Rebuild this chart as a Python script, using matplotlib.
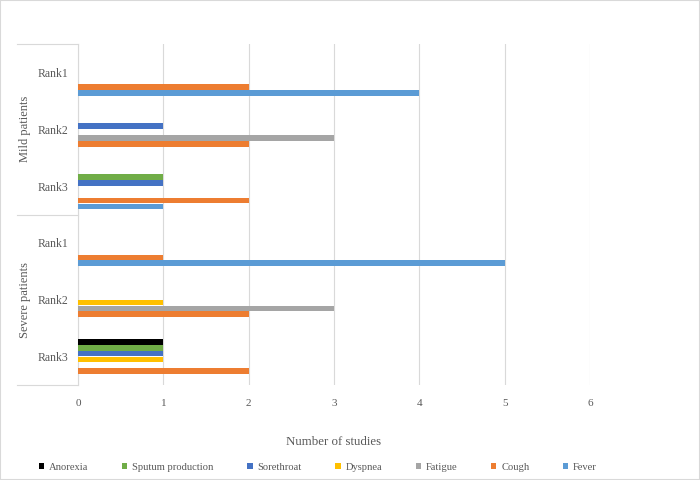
import matplotlib
matplotlib.use("Agg")
import matplotlib.pyplot as plt
from matplotlib.patches import Patch, Rectangle
import matplotlib.transforms as mtransforms

plt.rcParams['font.family'] = ['Liberation Serif', 'DejaVu Serif']

categories = ["Rank1", "Rank2", "Rank3", "Rank1", "Rank2", "Rank3"]
groups = ["Mild patients", "Severe patients"]
series = ["Fever", "Cough", "Fatigue", "Dyspnea", "Sorethroat", "Sputum production", "Anorexia"]
colors = ["#5B9BD5", "#ED7D31", "#A5A5A5", "#FFC000", "#4472C4", "#70AD47", "#000000"]

# values per series, in category order (Mild R1, R2, R3, Severe R1, R2, R3)
fever      = [4, 0, 1, 5, 0, 0]
cough      = [2, 2, 2, 1, 2, 2]
fatigue    = [0, 3, 0, 0, 3, 0]
dyspnea    = [0, 0, 0, 0, 1, 1]
sorethroat = [0, 1, 1, 0, 0, 1]
sputum     = [0, 0, 1, 0, 0, 1]
anorexia   = [0, 0, 0, 0, 0, 1]
values = [fever, cough, fatigue, dyspnea, sorethroat, sputum, anorexia]

xticks = [0, 1, 2, 3, 4, 5, 6]

fig = plt.figure(figsize=(7, 4.8), dpi=100)
ax = fig.add_axes([78/700, 1-385/480, (590-78)/700, (385-44)/480])

text_color = "#595959"
grid_color = "#D9D9D9"

n = len(categories)
bar_h = 0.1
step = 0.103
for i, (name, vals, col) in enumerate(zip(series, values, colors)):
    ys = [c + (3 - i) * step + 0.05 for c in range(n)]
    ax.barh(ys, vals, height=bar_h, color=col, label=name, zorder=3)

ax.set_ylim(n - 0.5, -0.5)
ax.set_xlim(0, 6)
ax.set_xticks(xticks)
ax.set_xticklabels([str(t) for t in xticks])
ax.set_yticks(range(n))
ax.set_yticklabels(categories)
ax.tick_params(axis='y', length=0, pad=7, labelsize=8.5, labelcolor=text_color)
ax.tick_params(axis='x', length=0, pad=10, labelsize=8, labelcolor=text_color)
ax.grid(axis='x', color=grid_color, linewidth=0.8, zorder=0)
for s in ['top', 'right', 'bottom']:
    ax.spines[s].set_visible(False)
ax.spines['left'].set_color(grid_color)
ax.spines['left'].set_linewidth(0.8)

ax.set_xlabel("Number of studies", fontsize=9.3, color=text_color, labelpad=20)

# group separators and labels
trans = mtransforms.blended_transform_factory(ax.transAxes, ax.transData)
x0 = (17 - 78) / 512
for yv in [-0.5, 2.5, 5.5]:
    ax.plot([x0, 0], [yv, yv], transform=trans, color=grid_color, linewidth=0.8, clip_on=False)
for gi, g in enumerate(groups):
    ax.text((25 - 78) / 512, gi * 3 + 1, g, transform=trans, rotation=90,
            ha='center', va='center', fontsize=9, color=text_color)

handles = [Patch(facecolor=c, label=s) for s, c in zip(series, colors)][::-1]
fig.legend(handles=handles, loc='center', bbox_to_anchor=(318/700, 1 - 467/480),
           ncol=7, frameon=False, fontsize=7.6, handlelength=0.5, handleheight=0.5,
           handletextpad=0.45, columnspacing=3.2, labelcolor=text_color,
           borderpad=0, borderaxespad=0)

fig.patches.append(Rectangle((0, 0), 1, 1, transform=fig.transFigure, fill=False,
                             edgecolor=grid_color, linewidth=1.5))

fig.savefig("out.png", dpi=100)
